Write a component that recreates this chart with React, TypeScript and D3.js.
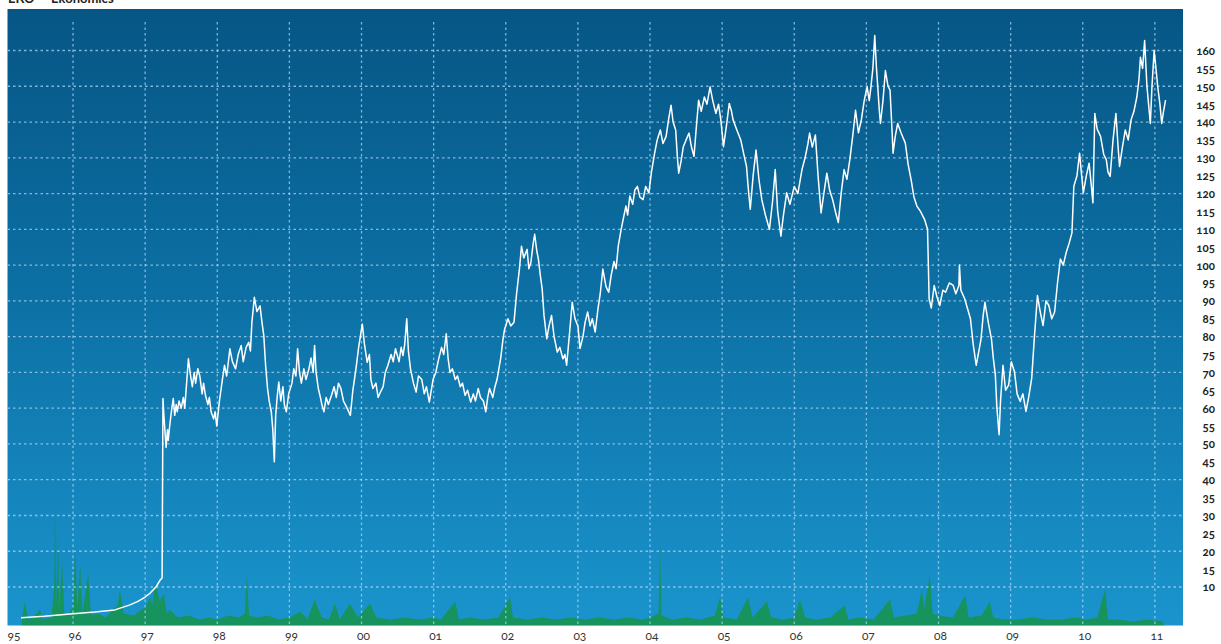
import React from "react";
import * as d3 from "d3";

const yearTicks = [1995, 1996, 1997, 1998, 1999, 2000, 2001, 2002, 2003, 2004, 2005, 2006, 2007, 2008, 2009, 2010, 2011];
const yearLabels = ["95", "96", "97", "98", "99", "00", "01", "02", "03", "04", "05", "06", "07", "08", "09", "10", "11"];
const priceTicks = [10, 15, 20, 25, 30, 35, 40, 45, 50, 55, 60, 65, 70, 75, 80, 85, 90, 95, 100, 105, 110, 115, 120, 125, 130, 135, 140, 145, 150, 155, 160];
const gridValues = [10, 20, 30, 40, 50, 60, 70, 80, 90, 100, 110, 120, 130, 140, 150, 160];

const price: [number, number][] = [
  [1995.28, 1.4], [1995.6, 1.8], [1996.0, 2.5], [1996.3, 3], [1996.58, 3.6], [1996.79, 5], [1996.9, 6],
  [1997.0, 7.2], [1997.07, 8.3], [1997.15, 10], [1997.21, 12], [1997.235, 12.5], [1997.247, 62.7],
  [1997.26, 58], [1997.27, 55], [1997.29, 49], [1997.31, 54], [1997.32, 51], [1997.34, 55], [1997.37, 60],
  [1997.39, 62.7], [1997.41, 58], [1997.43, 61], [1997.445, 59], [1997.47, 62], [1997.5, 60], [1997.53, 63],
  [1997.549, 60], [1997.575, 67], [1997.6, 73.8], [1997.63, 69], [1997.654, 66], [1997.68, 70], [1997.7, 67],
  [1997.73, 71], [1997.758, 69], [1997.79, 64], [1997.81, 67], [1997.836, 63.6], [1997.87, 61], [1997.89, 63],
  [1997.914, 59], [1997.95, 57], [1997.97, 59], [1997.993, 55], [1998.03, 62], [1998.071, 68], [1998.1, 72],
  [1998.13, 69], [1998.175, 76.6], [1998.21, 73], [1998.254, 71], [1998.29, 75], [1998.332, 77.5], [1998.36, 73],
  [1998.4, 77], [1998.436, 78.4], [1998.46, 76], [1998.48, 84], [1998.5, 88], [1998.514, 91], [1998.55, 87],
  [1998.593, 88.6], [1998.62, 84], [1998.645, 80.3], [1998.67, 72], [1998.697, 65.5], [1998.72, 62], [1998.749, 59],
  [1998.77, 54], [1998.791, 45], [1998.81, 58], [1998.83, 63], [1998.853, 67.3], [1998.88, 62], [1998.91, 66],
  [1998.93, 61], [1998.958, 59], [1998.99, 64], [1999.036, 67], [1999.06, 71], [1999.09, 69], [1999.114, 76.6],
  [1999.14, 70], [1999.166, 67], [1999.2, 71], [1999.23, 68], [1999.271, 71], [1999.3, 74], [1999.33, 70],
  [1999.349, 77.5], [1999.37, 70], [1999.401, 65.5], [1999.43, 63], [1999.45, 61], [1999.479, 59], [1999.51, 63],
  [1999.54, 61], [1999.584, 63.6], [1999.62, 66], [1999.65, 63], [1999.68, 67], [1999.714, 65.5], [1999.75, 62],
  [1999.8, 60], [1999.845, 58], [1999.88, 65], [1999.923, 71], [1999.96, 77], [2000.011, 83.5], [2000.04, 78],
  [2000.079, 72.8], [2000.11, 75], [2000.13, 68], [2000.158, 65.5], [2000.2, 67], [2000.23, 63], [2000.262, 64.5],
  [2000.3, 66], [2000.33, 70], [2000.366, 72], [2000.41, 75], [2000.44, 73], [2000.471, 76.6], [2000.52, 73],
  [2000.55, 77], [2000.575, 74.7], [2000.6, 78], [2000.627, 85], [2000.65, 76], [2000.679, 71], [2000.72, 67],
  [2000.757, 64.5], [2000.79, 69], [2000.836, 68], [2000.87, 64], [2000.9, 66], [2000.94, 61.7], [2000.992, 68],
  [2001.03, 70], [2001.07, 73.8], [2001.11, 77], [2001.14, 75], [2001.175, 80.8], [2001.2, 74], [2001.227, 70],
  [2001.26, 71], [2001.3, 68], [2001.331, 69], [2001.37, 66], [2001.4, 67], [2001.436, 63.6], [2001.47, 65],
  [2001.514, 61.7], [2001.55, 64], [2001.58, 62], [2001.618, 65.5], [2001.65, 63], [2001.69, 62], [2001.723, 59],
  [2001.75, 63], [2001.775, 65.5], [2001.82, 63], [2001.85, 66], [2001.879, 68], [2001.93, 74], [2001.96, 79],
  [2001.983, 82], [2002.03, 85], [2002.07, 83], [2002.114, 84], [2002.15, 92], [2002.19, 99], [2002.218, 105.3],
  [2002.25, 102], [2002.296, 104.4], [2002.32, 99], [2002.348, 100.7], [2002.38, 106], [2002.401, 108.6],
  [2002.43, 104], [2002.453, 101.6], [2002.48, 97], [2002.505, 93.3], [2002.53, 86], [2002.568, 79.4], [2002.6, 83],
  [2002.635, 85.9], [2002.67, 80], [2002.714, 75.7], [2002.75, 77], [2002.792, 73.8], [2002.82, 75], [2002.844, 72],
  [2002.88, 80], [2002.922, 89.6], [2002.96, 85], [2003.0, 83], [2003.03, 76.7], [2003.07, 80], [2003.1, 84],
  [2003.135, 86.9], [2003.17, 83], [2003.2, 85], [2003.24, 81.3], [2003.28, 88], [2003.31, 92], [2003.346, 98.9],
  [2003.39, 94], [2003.427, 92.4], [2003.46, 97], [2003.5, 101], [2003.53, 99], [2003.56, 105.4], [2003.6, 110],
  [2003.63, 113], [2003.666, 116.5], [2003.69, 114], [2003.72, 119.3], [2003.76, 117], [2003.79, 121], [2003.825, 122],
  [2003.86, 119], [2003.904, 118.3], [2003.94, 122], [2003.984, 120.2], [2004.02, 126], [2004.064, 131.3], [2004.1, 135],
  [2004.143, 137.8], [2004.18, 134], [2004.223, 136], [2004.26, 141], [2004.292, 144.7], [2004.32, 140], [2004.356, 137.8],
  [2004.38, 130], [2004.398, 125.7], [2004.43, 129], [2004.462, 133.1], [2004.5, 135], [2004.541, 136.9], [2004.575, 133],
  [2004.61, 130.4], [2004.64, 138], [2004.674, 146.1], [2004.71, 143], [2004.754, 147], [2004.79, 145], [2004.833, 149.8],
  [2004.87, 146], [2004.913, 142.4], [2004.95, 145], [2004.982, 140.6], [2005.019, 133.1], [2005.06, 139], [2005.099, 145.2],
  [2005.13, 143], [2005.152, 140.6], [2005.2, 138], [2005.258, 135], [2005.3, 131], [2005.338, 127.6], [2005.36, 122],
  [2005.39, 115.6], [2005.43, 125], [2005.47, 132.2], [2005.51, 124], [2005.55, 118.3], [2005.6, 114], [2005.656, 110],
  [2005.7, 118], [2005.736, 126.7], [2005.77, 115], [2005.815, 108.1], [2005.85, 114], [2005.895, 120.2], [2005.94, 117],
  [2006.0, 122], [2006.05, 120], [2006.107, 126.7], [2006.15, 130], [2006.19, 134], [2006.213, 136.9], [2006.25, 133],
  [2006.293, 136.4], [2006.33, 125], [2006.372, 114.6], [2006.41, 120], [2006.452, 125.7], [2006.49, 121], [2006.532, 118.3],
  [2006.57, 115], [2006.611, 111.9], [2006.65, 120], [2006.691, 126.7], [2006.73, 124], [2006.77, 129.4], [2006.81, 136],
  [2006.85, 143.3], [2006.89, 137], [2006.93, 140.6], [2006.97, 146], [2007.01, 149.8], [2007.04, 146], [2007.063, 149.8],
  [2007.09, 155], [2007.116, 164.2], [2007.14, 155], [2007.158, 149.8], [2007.18, 143], [2007.195, 139.6], [2007.23, 146],
  [2007.264, 154.4], [2007.3, 150], [2007.328, 148.9], [2007.35, 140], [2007.37, 131.3], [2007.4, 136], [2007.434, 139.6],
  [2007.48, 137], [2007.54, 134.1], [2007.58, 128], [2007.62, 123.9], [2007.66, 119], [2007.7, 116.5], [2007.75, 115],
  [2007.806, 112.8], [2007.848, 110], [2007.87, 90.6], [2007.9, 88], [2007.94, 94.3], [2007.98, 91], [2008.018, 88.7],
  [2008.06, 93], [2008.098, 92.4], [2008.15, 95], [2008.204, 94.3], [2008.24, 92], [2008.283, 94.3], [2008.29, 100],
  [2008.31, 93], [2008.363, 90.6], [2008.4, 88], [2008.443, 85], [2008.48, 78], [2008.523, 72], [2008.56, 76],
  [2008.59, 79.4], [2008.62, 86], [2008.644, 89.6], [2008.69, 84], [2008.734, 79.4], [2008.76, 74], [2008.788, 69.3],
  [2008.81, 60], [2008.84, 52.6], [2008.86, 62], [2008.894, 72], [2008.93, 65], [2008.973, 66.5], [2009.01, 73],
  [2009.053, 70.2], [2009.09, 64], [2009.133, 61.9], [2009.17, 64], [2009.212, 59.1], [2009.25, 63], [2009.292, 68.3],
  [2009.33, 80], [2009.372, 91.5], [2009.41, 87], [2009.45, 83.1], [2009.49, 90], [2009.53, 88.7], [2009.57, 85],
  [2009.61, 86.9], [2009.65, 95], [2009.69, 101.7], [2009.73, 100], [2009.77, 103.5], [2009.81, 106], [2009.85, 109],
  [2009.876, 122], [2009.92, 125], [2009.956, 131.3], [2009.98, 126], [2010.008, 120.2], [2010.05, 125], [2010.088, 128.5],
  [2010.12, 122], [2010.141, 117.4], [2010.167, 142.4], [2010.2, 138], [2010.247, 136], [2010.29, 131], [2010.327, 129.4],
  [2010.35, 126], [2010.38, 124.8], [2010.42, 135], [2010.46, 142.4], [2010.49, 133], [2010.51, 127.6], [2010.55, 133],
  [2010.59, 137.8], [2010.63, 135], [2010.67, 140.6], [2010.71, 143], [2010.75, 147], [2010.78, 152], [2010.8, 158.1],
  [2010.83, 155], [2010.858, 162.8], [2010.89, 150], [2010.937, 139.6], [2010.96, 150], [2010.99, 160], [2011.02, 154],
  [2011.04, 149.8], [2011.07, 145], [2011.095, 139.6], [2011.12, 143], [2011.148, 146.1]
];

const volume: [number, number][] = [
  [1995.29, 2], [1995.33, 12], [1995.38, 3], [1995.45, 4], [1995.54, 8], [1995.58, 3], [1995.7, 4],
  [1995.74, 20], [1995.75, 60], [1995.77, 10], [1995.79, 48], [1995.81, 8], [1995.85, 32], [1995.88, 5],
  [1995.95, 6], [1996.0, 10], [1996.03, 40], [1996.06, 8], [1996.1, 30], [1996.13, 6], [1996.21, 26],
  [1996.25, 5], [1996.35, 6], [1996.45, 4], [1996.55, 8], [1996.62, 10], [1996.65, 18], [1996.7, 6],
  [1996.85, 5], [1996.95, 8], [1997.0, 9], [1997.07, 14], [1997.1, 10], [1997.14, 22], [1997.2, 12],
  [1997.26, 16], [1997.3, 6], [1997.34, 8], [1997.45, 4], [1997.6, 5], [1997.75, 3], [1997.9, 4],
  [1998.0, 3], [1998.15, 5], [1998.3, 4], [1998.38, 6], [1998.41, 25], [1998.44, 5], [1998.55, 4],
  [1998.7, 5], [1998.85, 3], [1999.0, 4], [1999.15, 7], [1999.25, 3], [1999.35, 13], [1999.45, 4],
  [1999.55, 3], [1999.63, 11], [1999.7, 3], [1999.84, 11], [1999.95, 4], [2000.12, 11], [2000.2, 4],
  [2000.4, 3], [2000.6, 4], [2000.8, 3], [2001.0, 4], [2001.1, 3], [2001.3, 12], [2001.35, 3],
  [2001.5, 4], [2001.7, 3], [2001.9, 4], [2002.06, 14], [2002.1, 4], [2002.3, 3], [2002.5, 4],
  [2002.7, 3], [2002.9, 4], [2003.1, 3], [2003.3, 4], [2003.5, 3], [2003.7, 4], [2003.9, 3],
  [2004.0, 4], [2004.12, 6], [2004.14, 40], [2004.16, 5], [2004.3, 3], [2004.5, 4], [2004.7, 3],
  [2004.9, 5], [2004.97, 14], [2005.02, 4], [2005.2, 3], [2005.36, 14], [2005.42, 4], [2005.62, 12],
  [2005.68, 4], [2005.85, 3], [2006.0, 4], [2006.08, 13], [2006.15, 4], [2006.3, 3], [2006.5, 4],
  [2006.7, 10], [2006.75, 3], [2006.9, 4], [2007.1, 3], [2007.33, 13], [2007.38, 4], [2007.55, 5],
  [2007.7, 6], [2007.77, 18], [2007.8, 8], [2007.88, 25], [2007.92, 6], [2008.0, 5], [2008.2, 4],
  [2008.37, 15], [2008.42, 4], [2008.6, 5], [2008.71, 12], [2008.76, 4], [2008.9, 3], [2009.1, 3],
  [2009.3, 4], [2009.5, 3], [2009.7, 3], [2009.9, 4], [2010.05, 3], [2010.2, 4], [2010.31, 18],
  [2010.35, 3], [2010.5, 3], [2010.7, 2], [2010.9, 3], [2011.12, 2]
];

const W = 1221;
const H = 644;
const PL = 7.5, PR = 1183, PT = 9, PB = 625.5;

export default function App() {
  const x = d3.scaleLinear().domain([1995, 2011.39]).range([0.9, 1183]);
  const y = d3.scaleLinear().domain([-0.9, 171.6]).range([626, 9]);
  const vy = d3.scaleLinear().domain([0, 100]).range([PB, PB - 200]);

  const line = d3.line<[number, number]>().x((d) => x(d[0])).y((d) => y(d[1]));
  const area = d3
    .area<[number, number]>()
    .x((d) => x(d[0]))
    .y0(PB)
    .y1((d) => vy(d[1]));

  const fontY = "Lato, 'Open Sans', sans-serif";
  return (
    <svg width={W} height={H} style={{ position: "absolute", left: 0, top: 0, background: "#fff" }}>
      <defs>
        <linearGradient id="bg" x1="0" y1="0" x2="0" y2="1">
          <stop offset="0" stopColor="#065685" />
          <stop offset="0.45" stopColor="#0c6fa3" />
          <stop offset="1" stopColor="#1a94cd" />
        </linearGradient>
        <clipPath id="plot">
          <rect x={PL} y={PT} width={PR - PL} height={PB - PT} />
        </clipPath>
      </defs>
      <text x={8} y={3} fontFamily={fontY} fontWeight="bold" fontSize={13} fill="#222">
        EKO — Ekonomics
      </text>
      <rect x={PL} y={PT} width={PR - PL} height={PB - PT} fill="url(#bg)" />
      <g clipPath="url(#plot)">
        <path d={area(volume) || ""} fill="#17934a" opacity={0.85} />
        {gridValues.map((v) => (
          <line key={"h" + v} x1={PL} x2={PR} y1={y(v)} y2={y(v)} stroke="#a9d6f5" strokeOpacity={0.75} strokeWidth={1.3} strokeDasharray="2.5,3" />
        ))}
        {yearTicks.slice(1).map((t) => (
          <line key={"v" + t} x1={x(t)} x2={x(t)} y1={22} y2={PB} stroke="#a9d6f5" strokeOpacity={0.75} strokeWidth={1.3} strokeDasharray="2.5,3" />
        ))}
        <path d={line(price) || ""} fill="none" stroke="#ffffff" strokeWidth={1.5} strokeLinejoin="round" />
      </g>
      {priceTicks.map((v) => (
        <text key={"yl" + v} x={1215} y={y(v) + 1.5} textAnchor="end" dominantBaseline="middle" fontFamily={fontY} fontWeight="bold" fontSize={11.5} fill="#222" style={{ fontVariantNumeric: "oldstyle-nums" }}>
          {v}
        </text>
      ))}
      {yearTicks.map((t, i) => (
        <text key={"xl" + t} x={Math.max(x(t) + 2, 14)} y={640} textAnchor="middle" fontFamily={fontY} fontSize={12} fill="#333" style={{ fontVariantNumeric: "oldstyle-nums" }}>
          {yearLabels[i]}
        </text>
      ))}
    </svg>
  );
}
